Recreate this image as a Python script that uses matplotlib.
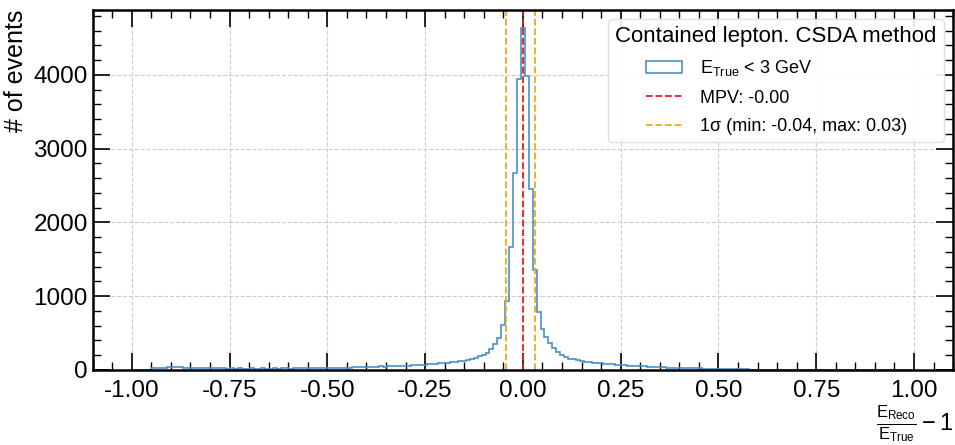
import matplotlib
matplotlib.use("Agg")
import matplotlib.pyplot as plt
from matplotlib.ticker import MultipleLocator, FormatStrFormatter
import numpy as np

plt.rcParams["font.family"] = ["Liberation Sans", "DejaVu Sans"]
plt.rcParams["mathtext.fontset"] = "custom"
plt.rcParams["mathtext.rm"] = "Liberation Sans"
plt.rcParams["mathtext.it"] = "Liberation Sans"
plt.rcParams["axes.unicode_minus"] = False

# 199 bins between -1 and 1, counts
bin_edges = np.linspace(-1, 1, 200)
counts = [
    # -1.00 .. -0.75
    0, 0, 0, 0, 0, 22, 28, 25, 30, 35, 40, 32, 38, 30, 27, 25, 22, 26, 20, 24,
    21, 18, 22, 19, 17,
    # -0.75 .. -0.50
    18, 16, 19, 15, 17, 20, 16, 14, 18, 15, 17, 19, 16, 18, 20, 17, 19, 21, 18, 20,
    22, 19, 21, 23, 24,
    # -0.50 .. -0.25
    25, 27, 24, 29, 31, 28, 33, 35, 32, 37, 40, 38, 43, 45, 42, 48, 50, 53, 51, 56,
    58, 62, 60, 66, 70,
    # -0.25 .. -0.12
    74, 78, 82, 88, 92, 98, 104, 110, 118, 126, 134, 142,
    # peak region
    158, 181, 203, 230, 280, 345, 435, 610, 930, 1670, 2665, 3940, 4640,
    3985, 2450, 1350, 785, 560, 440, 360, 300, 245, 200, 175, 150,
    # 0.13 .. 0.20
    140, 128, 118, 112, 105, 98, 92, 88,
    # 0.20 .. 0.30
    82, 78, 74, 70, 66, 62, 58, 55, 52, 50,
    # 0.30 .. 0.40
    46, 43, 40, 38, 35, 33, 30, 28, 27, 25,
    # 0.40 .. 0.50
    23, 22, 21, 19, 18, 16, 15, 14, 12, 11,
    # 0.50 .. 0.60
    10, 9, 8, 7, 6, 6, 5, 4, 4, 3,
    # 0.60 .. 1.00
    3, 2, 2, 2, 1, 1, 1, 1, 0, 1, 0, 0, 1, 0, 0, 0, 0, 0, 0, 0,
    0, 0, 0, 0, 0, 0, 0, 0, 0, 0, 0, 0, 0, 0, 0, 0, 0, 0, 0,
]
mpv = 0.0
sigma_min = -0.042
sigma_max = 0.030

hist_label = r"$\mathregular{E_{True}}$ < 3 GeV"
mpv_label = "MPV: -0.00"
sigma_label = "1σ (min: -0.04, max: 0.03)"
legend_title = "Contained lepton. CSDA method"

fig = plt.figure(figsize=(9.55, 4.45), dpi=100)
ax = fig.add_axes([0.097, 0.169, 0.901, 0.8085])

bin_centers = 0.5 * (bin_edges[:-1] + bin_edges[1:])
ax.hist(bin_centers, bins=bin_edges, weights=counts, histtype="step",
        color="#4a90c8", lw=1.2, label=hist_label)
ax.axvline(mpv, color="#e02020", ls="--", lw=1.3, label=mpv_label)
ax.axvline(sigma_min, color="#f0a818", ls="--", lw=1.3, label=sigma_label)
ax.axvline(sigma_max, color="#f0a818", ls="--", lw=1.3)

ax.set_xlim(-1.1, 1.1)
ax.set_ylim(0, 4880)
ax.xaxis.set_major_locator(MultipleLocator(0.25))
ax.xaxis.set_minor_locator(MultipleLocator(0.05))
ax.yaxis.set_major_locator(MultipleLocator(1000))
ax.yaxis.set_minor_locator(MultipleLocator(200))
ax.xaxis.set_major_formatter(FormatStrFormatter("%.2f"))
ax.tick_params(which="both", direction="in", top=True, right=True, labelsize=17.5)
ax.tick_params(which="major", length=12, width=1.2)
ax.tick_params(which="minor", length=6, width=1.0)
ax.tick_params(axis="x", pad=7)
for s in ax.spines.values():
    s.set_linewidth(1.8)
ax.grid(True, ls="--", color="#cccccc", lw=0.8)

ax.set_xlabel(r"$\mathregular{\frac{E_{Reco}}{E_{True}} - 1}$", loc="right",
              fontsize=17, labelpad=1)
ax.set_ylabel("# of events", loc="top", fontsize=18)

leg = ax.legend(title=legend_title, loc="upper right", fontsize=13,
                title_fontsize=16, frameon=True, fancybox=True,
                handlelength=2.0, handletextpad=1.0, labelspacing=0.62,
                borderaxespad=0.5)
leg.get_frame().set_edgecolor("#dddddd")
leg.get_frame().set_alpha(0.9)

fig.savefig("out.png", dpi=100)
